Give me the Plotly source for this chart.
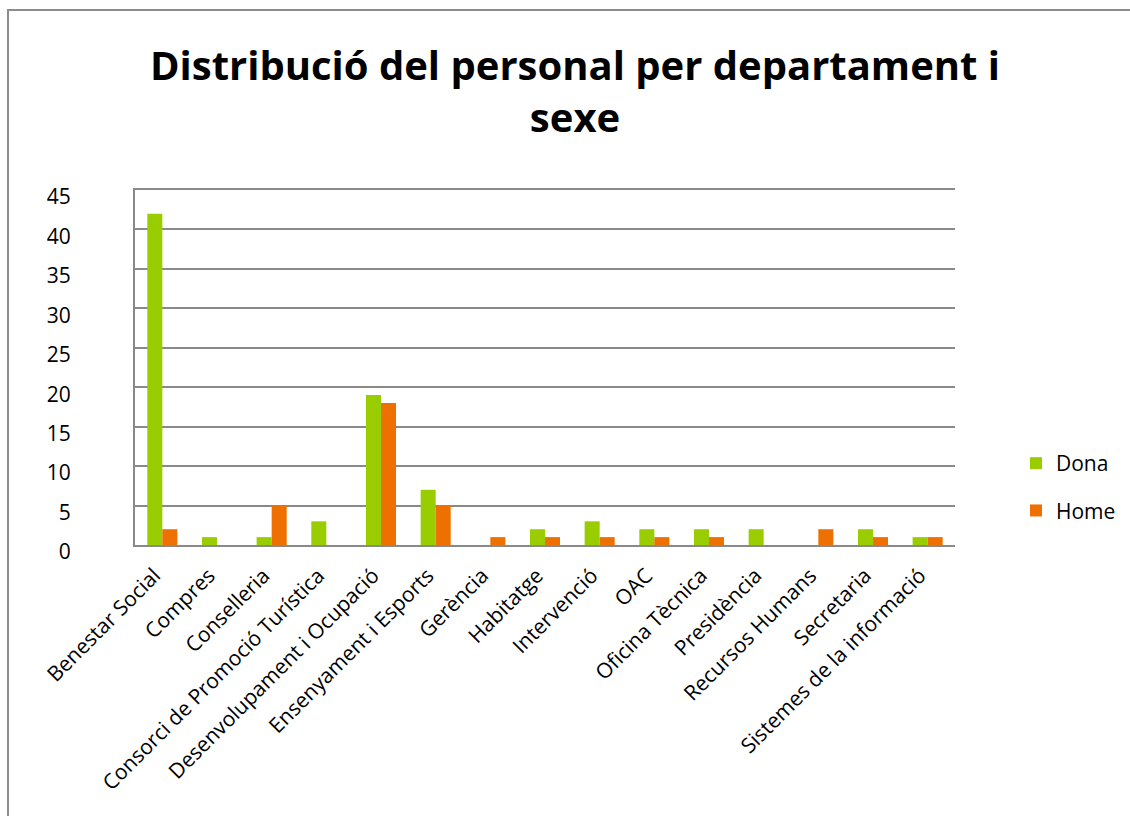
import plotly.graph_objects as go

categories = ["Benestar Social", "Compres", "Conselleria", "Consorci de Promoció Turística",
              "Desenvolupament i Ocupació", "Ensenyament i Esports", "Gerència", "Habitatge",
              "Intervenció", "OAC", "Oficina Tècnica", "Presidència", "Recursos Humans",
              "Secretaria", "Sistemes de la informació"]
dona = [42, 1, 1, 3, 19, 7, 0, 2, 3, 2, 2, 2, 0, 2, 1]
home = [2, 0, 5, 0, 18, 5, 1, 1, 1, 1, 1, 0, 2, 1, 1]
y_ticks = [0, 5, 10, 15, 20, 25, 30, 35, 40, 45]

FONT = "Open Sans"
W, H = 1130, 816
L, R, T, B = 135, 175, 190, 271

fig = go.Figure()
fig.add_trace(go.Bar(x=categories, y=dona, name="Dona", legendgroup="a",
                     marker=dict(color="#9ACD00", line=dict(width=0))))
fig.add_trace(go.Bar(x=categories, y=home, name="Home", legendgroup="b",
                     marker=dict(color="#EE7000", line=dict(width=0))))

pw = W - L - R
ph = H - T - B
def px_x(p):
    return (p - L) / pw
def px_y(p):
    return (H - B - p) / ph

fig.update_layout(
    width=W, height=H,
    margin=dict(l=L, r=R, t=T, b=B, autoexpand=False),
    paper_bgcolor="white", plot_bgcolor="white",
    barmode="group", bargap=0.45, bargroupgap=0,
    font=dict(family=FONT, color="black"),
    title=dict(text="<b>Distribució del personal per departament i<br>sexe</b>",
               x=575 / W, xanchor="center", y=1 - 80 / H, yanchor="top",
               font=dict(family=FONT, size=40, color="black")),
    xaxis=dict(tickangle=-45, tickfont=dict(size=21, family=FONT),
               showline=True, mirror=True, linecolor="#898989", linewidth=2,
               showgrid=False, ticks="", automargin=False,
               ticklabelstandoff=8, ticklabelshift=-8),
    yaxis=dict(range=[0, 45], tickvals=y_ticks, tickfont=dict(size=21, family=FONT),
               showgrid=True, gridcolor="#898989", gridwidth=2,
               showline=True, linecolor="#898989", linewidth=2,
               ticks="", ticklabelstandoff=58, ticklabelshift=7, zeroline=False,
               automargin=False),
    legend=dict(x=px_x(1016), y=px_y(443), xanchor="left", yanchor="top",
                font=dict(size=21, family=FONT), traceorder="grouped",
                itemsizing="constant", tracegroupgap=17, bgcolor="rgba(0,0,0,0)"),
    shapes=[dict(type="rect", xref="paper", yref="paper",
                 x0=px_x(8), x1=px_x(1140), y0=px_y(830), y1=px_y(10),
                 line=dict(color="#8C8C8C", width=2), fillcolor="rgba(0,0,0,0)", layer="below")],
)

fig.write_html("out.html", config={"displayModeBar": False},
               post_script="document.body.style.margin='0';")
